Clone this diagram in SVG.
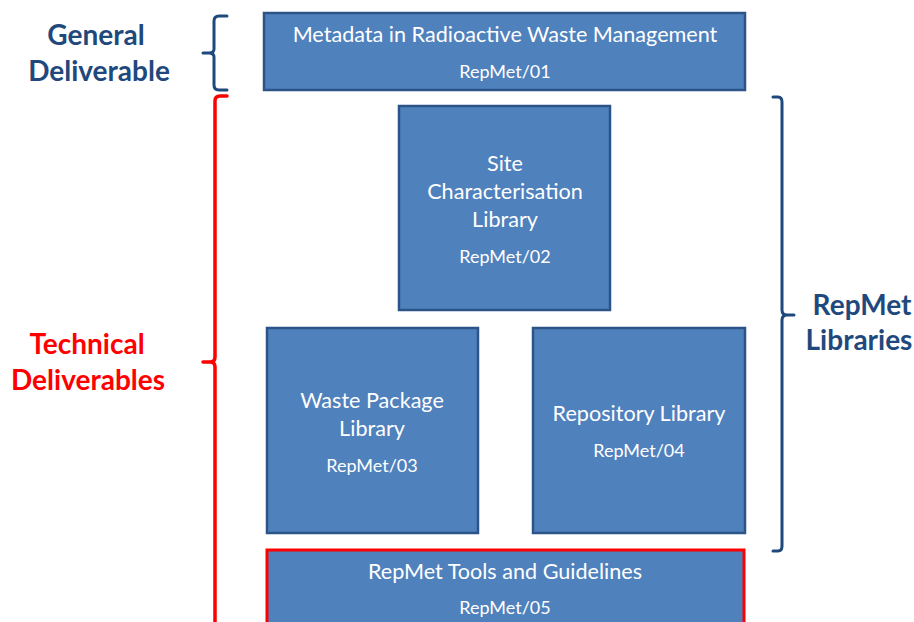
<svg xmlns="http://www.w3.org/2000/svg" width="914" height="622" viewBox="0 0 914 622">
<style>
.box{fill:#4F81BD;stroke:#2C5488;stroke-width:2.5}
.boxr{fill:#4F81BD;stroke:#FF0000;stroke-width:3}
.t{font-family:Lato,"Open Sans",sans-serif;fill:#FFFFFF;font-size:21.6px;text-anchor:middle}
.s{font-family:Lato,"Open Sans",sans-serif;fill:#FFFFFF;font-size:18px;text-anchor:middle}
.lb{font-family:Lato,"Open Sans",sans-serif;font-weight:bold;font-size:28px;fill:#1F497D;text-anchor:middle}
.lr{font-family:Lato,"Open Sans",sans-serif;font-weight:bold;font-size:28px;fill:#FF0000;text-anchor:middle}
.br{fill:none;stroke:#1F497D;stroke-width:3;stroke-linecap:round}
.brr{fill:none;stroke:#FF0000;stroke-width:3.5;stroke-linecap:round}
</style>
<rect width="914" height="622" fill="#FFFFFF"/>
<g id="connectors">
<path class="br" d="M227,16 L219,16 Q214,16 214,21 L214,49 Q214,53 209,53 L203,53 M209,53 Q214,53 214,57 L214,85 Q214,90 219,90 L227,90"/>
<path class="brr" d="M227,96 L220,96 Q215,96 215,101 L215,357 Q215,362 210,362 L203,362 M210,362 Q215,362 215,367 L215,630"/>
<path class="br" d="M773,97 L778,97 Q782,97 782,102 L782,310 Q782,315 787,315 L794,315 M787,315 Q782,315 782,320 L782,546 Q782,551 778,551 L773,551"/>
</g>
<g id="label-general">
<text class="lb" x="96" y="45">General</text>
<text class="lb" x="99" y="81">Deliverable</text>
</g>
<g id="label-technical">
<text class="lr" x="87" y="354">Technical</text>
<text class="lr" x="88" y="390">Deliverables</text>
</g>
<g id="label-libraries">
<text class="lb" x="862" y="315">RepMet</text>
<text class="lb" x="859" y="350">Libraries</text>
</g>
<g id="node-01">
<rect class="box" x="264" y="13" width="481" height="77"/>
<text class="t" x="505" y="42">Metadata in Radioactive Waste Management</text>
<text class="s" x="505" y="78">RepMet/01</text>
</g>
<g id="node-02">
<rect class="box" x="399" y="106" width="211" height="204"/>
<text class="t" x="505" y="171">Site</text>
<text class="t" x="505" y="199">Characterisation</text>
<text class="t" x="505" y="227">Library</text>
<text class="s" x="505" y="263">RepMet/02</text>
</g>
<g id="node-03">
<rect class="box" x="267" y="328" width="211" height="205"/>
<text class="t" x="372" y="408">Waste Package</text>
<text class="t" x="372" y="436">Library</text>
<text class="s" x="372" y="472">RepMet/03</text>
</g>
<g id="node-04">
<rect class="box" x="533" y="328" width="212" height="205"/>
<text class="t" x="639" y="421">Repository Library</text>
<text class="s" x="639" y="457">RepMet/04</text>
</g>
<g id="node-05">
<rect class="boxr" x="267" y="550" width="477" height="90"/>
<text class="t" x="505" y="579">RepMet Tools and Guidelines</text>
<text class="s" x="505" y="614">RepMet/05</text>
</g>
</svg>
